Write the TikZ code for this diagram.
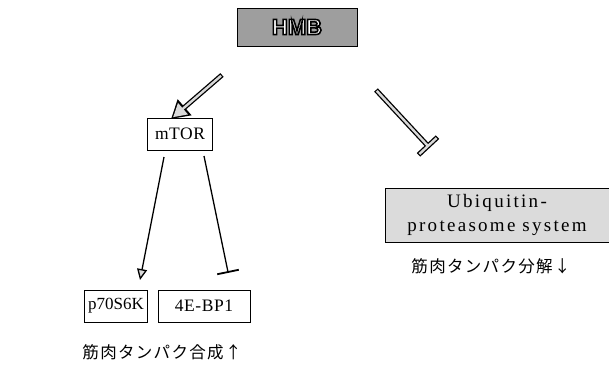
\documentclass[tikz,border=0pt]{standalone}
\usepackage{fontspec}
\setmainfont{Liberation Serif}
\newfontfamily\jp{Noto Sans CJK JP}
\newfontfamily\hmbfont{Liberation Sans}
\usetikzlibrary{arrows.meta,calc}
\newcommand\outlinedtext[1]{%
  {\color{white}\special{pdf:literal direct 0 G 1.6 w 2 Tr}#1\special{pdf:literal direct 0 Tr}}}
\definecolor{hmbgray}{gray}{0.62}
\definecolor{ubigray}{gray}{0.86}
\definecolor{shaft}{gray}{0.85}
\begin{document}
\begin{tikzpicture}[x=1pt,y=-1pt,
  box/.style={draw, line width=1pt, inner sep=0pt,
    font=\fontsize{17.5}{21}\selectfont\addfontfeatures{LetterSpace=3}},
  jtext/.style={font=\jp\fontsize{16.5}{19}\selectfont\addfontfeatures{LetterSpace=8}},
  thin/.style={line width=1.3pt},
]
\useasboundingbox (0,0) rectangle (609,375);
% nodes
\node[box, fill=hmbgray, minimum width=120pt, minimum height=38pt] (hmb) at (297,27)
  {\outlinedtext{\hmbfont\bfseries\fontsize{22}{24}\selectfont HMB}};
\node[box, minimum width=65pt, minimum height=32pt] (mtor) at (180,134) {mTOR};
\node[box, minimum width=63pt, minimum height=32pt,
  font=\fontsize{17}{21}\selectfont] (p70) at (116,306) {p70S6K};
\node[box, minimum width=92pt, minimum height=32pt] (ebp) at (204,306) {4E-BP1};
\node[box, fill=ubigray, minimum width=224pt, minimum height=54pt, align=center,
  font=\fontsize{19}{24}\selectfont\addfontfeatures{LetterSpace=12}] (ubi) at (497,215)
  {Ubiquitin-\\proteasome system};
\node[jtext] (syn) at (162,352) {筋肉タンパク合成↑};
\node[jtext] (deg) at (491,266) {筋肉タンパク分解↓};
% connector end points
\coordinate (a1s) at (222,75);
\coordinate (a1e) at (171,119);
\coordinate (a2s) at (376,90);
\coordinate (a2e) at (428,146);
\coordinate (a3s) at (164,157);
\coordinate (a3e) at (140,280);
\coordinate (a4s) at (204,156);
\coordinate (a4e) at (228,272);
% HMB -> mTOR (fat hollow arrow)
\draw[line width=5pt, -{Triangle[length=18pt,width=20pt]}] (a1s) -- (a1e);
\draw[line width=2.4pt, shaft, shorten <=1.2pt, shorten >=2.8pt,
  -{Triangle[length=13pt,width=14.5pt]}] (a1s) -- (a1e);
% HMB --| Ubiquitin (fat hollow inhibitor)
\draw[line width=5pt] (a2s) -- (a2e);
\draw[line width=5pt] ($(a2e)!13pt!90:(a2s)$) -- ($(a2e)!13pt!-90:(a2s)$);
\draw[line width=2.4pt, shaft, shorten <=1.2pt] (a2s) -- (a2e);
\draw[line width=2.4pt, shaft] ($(a2e)!11.8pt!90:(a2s)$) -- ($(a2e)!11.8pt!-90:(a2s)$);
% mTOR -> p70S6K
\draw[thin, -{Triangle[length=11pt,width=10pt,fill=shaft]}] (a3s) -- (a3e);
% mTOR --| 4E-BP1
\draw[thin] (a4s) -- (a4e);
\draw[line width=1.8pt] ($(a4e)!11pt!90:(a4s)$) -- ($(a4e)!11pt!-90:(a4s)$);
\end{tikzpicture}
\end{document}
